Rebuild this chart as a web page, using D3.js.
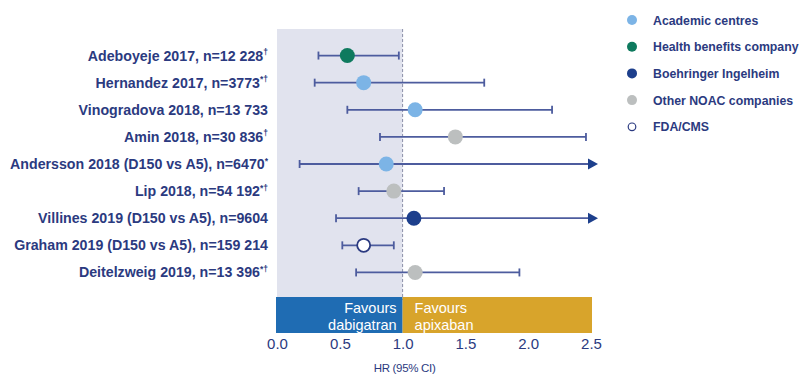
<!DOCTYPE html>
<html><head><meta charset="utf-8">
<script src="https://cdn.jsdelivr.net/npm/d3@7"></script>
<style>body{margin:0;background:#fff}svg{display:block}</style>
</head><body>
<svg id="chart" width="801" height="374"></svg>
<script>
const studies = ["Adeboyeje 2017, n=12 228","Hernandez 2017, n=3773","Vinogradova 2018, n=13 733","Amin 2018, n=30 836","Andersson 2018 (D150 vs A5), n=6470","Lip 2018, n=54 192","Villines 2019 (D150 vs A5), n=9604","Graham 2019 (D150 vs A5), n=159 214","Deitelzweig 2019, n=13 396"];
const marks = ["†","*†","","†","*","*†","","","*†"];
const hr = [0.56,0.69,1.10,1.42,0.87,0.93,1.09,0.69,1.10];
const lower = [0.33,0.30,0.56,0.82,0.18,0.65,0.47,0.52,0.63];
const upper = [0.97,1.65,2.19,2.46,2.55,1.33,2.55,0.93,1.93];
const arrow = [false,false,false,false,true,false,true,false,false];
const sponsor = ["Health benefits company","Academic centres","Academic centres","Other NOAC companies","Academic centres","Other NOAC companies","Boehringer Ingelheim","FDA/CMS","Other NOAC companies"];
const legendLabels = ["Academic centres","Health benefits company","Boehringer Ingelheim","Other NOAC companies","FDA/CMS"];
const legendFill = ["#7cb4e6","#0e7a5e","#1d3f8c","#bcbfbf","#ffffff"];
const xTicks = [0,0.5,1,1.5,2,2.5];

const navy = "#2b3a80", lineCol = "#4d5c9e";
const svg = d3.select("#chart");
const x = d3.scaleLinear().domain([0,2.5]).range([277,591]);
const y = d3.scaleBand().domain(studies).range([42,286]).paddingInner(0).paddingOuter(0);
const color = d3.scaleOrdinal().domain(legendLabels).range(legendFill);
const font = "'Liberation Sans', Arial, sans-serif";

svg.append("rect").attr("x",x(0)).attr("y",29).attr("width",x(1)-x(0)).attr("height",268).attr("fill","#e1e3ee");
svg.append("line").attr("x1",x(1)).attr("x2",x(1)).attr("y1",29).attr("y2",300)
  .attr("stroke","#8a8fa8").attr("stroke-width",1).attr("stroke-dasharray","3,2");

svg.append("rect").attr("x",x(0)-1).attr("y",297).attr("width",x(1)-x(0)+1).attr("height",36).attr("fill","#1f6cb3");
svg.append("rect").attr("x",x(1)).attr("y",297).attr("width",x(2.5)-x(1)+1).attr("height",36).attr("fill","#d8a42b");
const fl = svg.append("g").attr("font-family",font).attr("font-size",14.5).attr("fill","#fff");
fl.append("text").attr("x",x(1)-6).attr("y",313).attr("text-anchor","end").text("Favours");
fl.append("text").attr("x",x(1)-6).attr("y",330).attr("text-anchor","end").text("dabigatran");
fl.append("text").attr("x",x(1)+12).attr("y",313).text("Favours");
fl.append("text").attr("x",x(1)+12).attr("y",330).text("apixaban");

const ax = svg.append("g").attr("transform","translate(0,333)")
  .call(d3.axisBottom(x).tickValues(xTicks).tickFormat(d3.format(".1f")).tickSize(0).tickPadding(5));
ax.select(".domain").remove();
ax.selectAll("text").attr("font-family",font).attr("font-size",15).attr("fill",navy);
svg.append("text").attr("x",x(1)+2).attr("y",372).attr("text-anchor","middle").attr("font-family",font)
  .attr("font-size",11.5).attr("fill",navy).attr("letter-spacing","-0.3").text("HR (95% CI)");

const rows = studies.map((s,i)=>({s,i}));
const g = svg.append("g");
rows.forEach(({s,i})=>{
  const cy = y(s)+y.bandwidth()/2;
  const x2 = arrow[i] ? x(2.5)-3 : x(upper[i]);
  g.append("line").attr("x1",x(lower[i])).attr("x2",x2).attr("y1",cy).attr("y2",cy).attr("stroke",lineCol).attr("stroke-width",1.8);
  g.append("line").attr("x1",x(lower[i])).attr("x2",x(lower[i])).attr("y1",cy-4).attr("y2",cy+4).attr("stroke",lineCol).attr("stroke-width",1.8);
  if(arrow[i]){
    const ax0 = x(2.5)-3;
    g.append("path").attr("d",`M${ax0},${cy-5.5}L${ax0+10},${cy}L${ax0},${cy+5.5}Z`).attr("fill","#1d3f8c");
  } else {
    g.append("line").attr("x1",x(upper[i])).attr("x2",x(upper[i])).attr("y1",cy-4).attr("y2",cy+4).attr("stroke",lineCol).attr("stroke-width",1.8);
  }
  const fill = color(sponsor[i]);
  g.append("circle").attr("cx",x(hr[i])).attr("cy",cy).attr("r",sponsor[i]==="FDA/CMS"?6.5:7.5)
    .attr("fill",fill).attr("stroke",sponsor[i]==="FDA/CMS"?"#2b3a80":"none").attr("stroke-width",1.8);
  const t = svg.append("text").attr("x",268).attr("y",cy+5).attr("text-anchor","end")
    .attr("font-family",font).attr("font-weight","bold").attr("font-size",14.2).attr("fill",navy);
  t.append("tspan").text(s);
  if(marks[i]) t.append("tspan").attr("font-size",8.5).attr("dy",-5.5).text(marks[i]);
});

const lg = svg.append("g");
legendLabels.forEach((l,i)=>{
  const ly = 20 + i*26.7;
  lg.append("circle").attr("cx",632).attr("cy",ly).attr("r",l==="FDA/CMS"?3.8:5)
    .attr("fill",color(l)).attr("stroke",l==="FDA/CMS"?"#2b3a80":"none").attr("stroke-width",1.2);
  lg.append("text").attr("x",653).attr("y",ly+4.5).attr("font-family",font).attr("font-weight","bold")
    .attr("font-size",12.3).attr("fill",navy).text(l);
});
</script>
</body></html>
